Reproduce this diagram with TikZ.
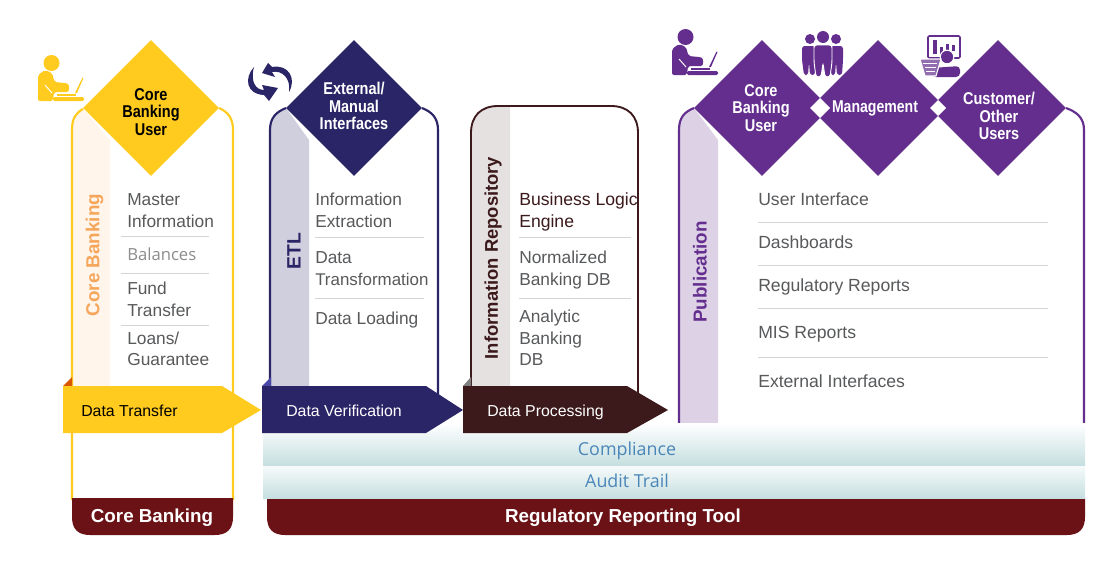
\documentclass[tikz,border=0pt]{standalone}
\usepackage{fontspec}
\setmainfont{Liberation Sans}
\newfontfamily\opensans{Open Sans}
\usetikzlibrary{shapes.geometric}
\definecolor{cyel}{HTML}{FFCB1F}
\definecolor{cblu}{HTML}{2A2566}
\definecolor{cdrk}{HTML}{3C1A1C}
\definecolor{cpur}{HTML}{642E8E}
\definecolor{cmar}{HTML}{6B1216}
\definecolor{ctxt}{HTML}{58595B}
\definecolor{csep}{HTML}{D5D5D5}
\definecolor{cband}{HTML}{C6DFE0}
\definecolor{cbtx}{HTML}{4A86B8}
\definecolor{corg}{HTML}{F5A65B}
\tikzset{
  dia/.style={diamond,aspect=1,minimum width=102pt,minimum height=102pt,inner sep=0pt,draw=none},
  dtext/.style={font=\fontsize{12.8}{13.2}\selectfont\bfseries,align=center,xscale=.85,transform shape,inner sep=0pt},
  item/.style={anchor=base west,font=\fontsize{13}{16}\selectfont,text=ctxt,inner sep=0pt},
  itemb/.style={item,font=\fontsize{13.2}{16}\selectfont},
  vert/.style={rotate=90,font=\fontsize{14.1}{16}\selectfont\bfseries,inner sep=0pt},
  sep/.style={draw=csep,line width=.7pt},
  arrowtxt/.style={anchor=base west,font=\fontsize{11.9}{13}\selectfont,inner sep=0pt},
  bartxt/.style={anchor=base,font=\fontsize{14.1}{16}\selectfont\bfseries,text=white,inner sep=0pt},
  bandtxt/.style={anchor=base,font=\opensans\fontsize{13.4}{16}\selectfont,text=cbtx,inner sep=0pt},
  pics/deskuser/.style={code={
    \fill[#1] (13.5,8) circle (8);
    \fill[#1,rounded corners=1.5pt] (0,20) -- (7,15) -- (14,18) -- (16.5,27) -- (27,28) .. controls (32,29) and (32,37) .. (27,37) -- (16,37) -- (15,46) -- (0,46) -- cycle;
    \draw[white,line width=.7pt] (7,30) -- (14,38);
    \fill[#1] (19,38.5) rectangle (38,40.5);
    \fill[#1,rounded corners=1pt] (15,42) rectangle (46,46);
    \fill[#1] (37,38) -- (39,38) -- (45.5,23) -- (44.5,22.5) -- cycle;
  }}
}
\begin{document}
\begin{tikzpicture}[x=.75pt,y=-.75pt]
\useasboundingbox (0,0) rectangle (1113,561);
\fill[white] (0,0) rectangle (1113,561);

% light strips
\fill[fill=orange!8!white] (72,127) .. controls (72,118) and (76,113) .. (83,109) -- (110,140) -- (110,386) -- (72,386) -- cycle;
\fill[fill=cblu!22!white] (270,127) .. controls (270,118) and (276,112) .. (286,108) -- (309,140) -- (309,386) -- (270,386) -- cycle;
\fill[fill=cdrk!13!white] (471,133) .. controls (471,116) and (481,106) .. (498,106) -- (510,106) -- (510,386) -- (471,386) -- cycle;
\fill[fill=cpur!22!white] (679,127) .. controls (679,118) and (684,112) .. (694,108) -- (718,140) -- (718,423) -- (679,423) -- cycle;

% panel outlines
\draw[cyel,line width=1.6pt] (83,109) .. controls (76,113) and (72,118) .. (72,130) -- (72,500);
\draw[cyel,line width=1.6pt] (219,108) .. controls (228,112) and (233,118) .. (233,130) -- (233,500);
\draw[cblu,line width=1.6pt] (286,108) .. controls (276,112) and (270,118) .. (270,130) -- (270,392);
\draw[cblu,line width=1.6pt] (422,108) .. controls (432,112) and (438,118) .. (438,130) -- (438,398);
\draw[cdrk,line width=1.4pt] (471,392) -- (471,133) .. controls (471,116) and (481,106) .. (498,106) -- (611,106) .. controls (628,106) and (638,116) .. (638,133) -- (638,398);
\draw[cpur,line width=1.6pt] (694,108) .. controls (684,112) and (679,118) .. (679,130) -- (679,423);
\draw[cpur,line width=1.6pt] (1066,108) .. controls (1077,112) and (1084,118) .. (1084,130) -- (1084,423);

% bottom bars
\fill[cmar] (72,498) -- (233,498) -- (233,517) .. controls (233,529) and (227,535) .. (215,535) -- (90,535) .. controls (78,535) and (72,529) .. (72,517) -- cycle;
\fill[cmar] (267,498) -- (1085,498) -- (1085,517) .. controls (1085,529) and (1079,535) .. (1067,535) -- (285,535) .. controls (273,535) and (267,529) .. (267,517) -- cycle;
\node[bartxt] (b1) at (152,522) {Core Banking};
\node[bartxt] (b2) at (623,522) {Regulatory Reporting Tool};

% bands
\shade[top color=white,bottom color=cband] (263,423) rectangle (1085,465);
\shade[top color=white!85!cband,bottom color=cband] (263,466) rectangle (1085,498);
\node[bandtxt] (compl) at (627,455) {Compliance};
\node[bandtxt] (audit) at (627,487) {Audit Trail};

% diamonds
\node[dia,fill=cyel] (d1) at (151,108) {};
\node[dtext] at (151,112) {Core\\Banking\\User};
\node[dia,fill=cblu] (d2) at (354,108) {};
\node[dtext,text=white] at (354,106) {External/\\Manual\\Interfaces};
\node[dia,fill=cpur] (d3) at (762,108) {};
\node[dia,fill=cpur] (d4) at (878,108) {};
\node[dia,fill=cpur] (d5) at (998,108) {};
\fill[white] (810,108) -- (820,98) -- (830,108) -- (820,118) -- cycle;
\fill[white] (930,108) -- (938,100) -- (946,108) -- (938,116) -- cycle;
\node[dtext,text=white] at (761,108) {Core\\Banking\\User};
\node[dtext,text=white,xscale=.97] at (875,108) {Management};
\node[dtext,text=white] at (999,116) {Customer/\\Other\\Users};

% rotated labels
\node[vert,text=corg] (v1) at (94.5,255) {Core Banking};
\node[vert,text=cblu,font=\fontsize{14.5}{16}\selectfont\bfseries] (v2) at (294,251) {ETL};
\node[vert,text=cdrk,font=\fontsize{13.8}{16}\selectfont\bfseries] (v3) at (493,258) {Information Repository};
\node[vert,text=cpur] (v4) at (700,272) {Publication};

% yellow list
\node[item] at (127,205.5) {Master};
\node[item] at (127,227.5) {Information};
\draw[sep] (121,236) -- (209,236);
\node[item,font=\opensans\fontsize{12.5}{16}\selectfont,text=gray!90!white] at (127,260) {Balances};
\draw[sep] (121,273) -- (209,273);
\node[item] at (127,294) {Fund};
\node[item] at (127,316) {Transfer};
\draw[sep] (121,325) -- (209,325);
\node[item] at (127,344) {Loans/};
\node[item] at (127,365.5) {Guarantee};

% blue list
\node[item] at (315,205.5) {Information};
\node[item] at (315,227.5) {Extraction};
\draw[sep] (315,237) -- (424,237);
\node[item] at (315,263) {Data};
\node[item,font=\fontsize{12.7}{16}\selectfont] at (315,285) {Transformation};
\draw[sep] (315,298) -- (424,298);
\node[item] at (315,324) {Data Loading};

% repository list
\node[itemb,text=cdrk] at (519,205.5) {Business Logic};
\node[itemb,text=cdrk] at (519,227.5) {Engine};
\draw[sep] (519,237) -- (631,237);
\node[item] at (519,263) {Normalized};
\node[item] at (519,285) {Banking DB};
\draw[sep] (519,298) -- (631,298);
\node[item] at (519,322) {Analytic};
\node[item] at (519,344) {Banking};
\node[item] at (519,365) {DB};

% publication list
\node[itemb] at (758,205.5) {User Interface};
\draw[sep] (758,222) -- (1048,222);
\node[itemb] at (758,248.5) {Dashboards};
\draw[sep] (758,265) -- (1048,265);
\node[itemb] at (758,291.5) {Regulatory Reports};
\draw[sep] (758,308) -- (1048,308);
\node[itemb] at (758,338.5) {MIS Reports};
\draw[sep] (758,357) -- (1048,357);
\node[itemb] at (758,387.5) {External Interfaces};

% arrows
\fill[orange!80!red!85!black] (63,386) -- (72,377) -- (72,386) -- cycle;
\fill[cblu!70!blue!80!white] (262,386) -- (271,377) -- (271,386) -- cycle;
\fill[gray] (463,386) -- (471,377) -- (471,386) -- cycle;
\fill[cyel] (63,386) -- (222,386) -- (261,410) -- (222,433) -- (63,433) -- cycle;
\fill[cblu] (262,386) -- (426,386) -- (463,410) -- (426,433) -- (262,433) -- cycle;
\fill[cdrk] (463,386) -- (627,386) -- (668,410) -- (627,433) -- (463,433) -- cycle;
\node[arrowtxt] (a1) at (81,416.5) {Data Transfer};
\node[arrowtxt,text=white] (a2) at (286,416.5) {Data Verification};
\node[arrowtxt,text=white] (a3) at (487,416.5) {Data Processing};

% icons
\pic at (38,55) {deskuser=cyel};
\pic at (672,29) {deskuser=cpur};

% cycle arrows
\fill[cblu] (289,92) .. controls (297,78) and (288,64) .. (272,67) -- (268,63) -- (262,73) -- (275,77) -- (272,72) .. controls (282,70) and (291,78) .. (289,92) -- cycle;
\fill[cblu] (254,67) .. controls (244,78) and (246,94) .. (264,95) -- (269,101) -- (278,88) -- (262,85) -- (264,90) .. controls (256,90) and (250,82) .. (254,67) -- cycle;

% people
\fill[cpur] (810,39) circle (5);
\fill[cpur] (836,39) circle (5);
\fill[cpur,rounded corners=2pt] (802,46) -- (815,46) -- (815,75) -- (810,75) -- (809,62) -- (808,75) -- (804,75) -- (802,60) -- cycle;
\fill[cpur,rounded corners=2pt] (831,46) -- (843,46) -- (843,60) -- (842,75) -- (837,75) -- (836,62) -- (835,75) -- (831,75) -- cycle;
\fill[cpur] (823,37) circle (6);
\draw[white,line width=.7pt,fill=cpur,rounded corners=2pt] (814,45) -- (832,45) -- (832,62) -- (830,77) -- (825,77) -- (823,63) -- (821,77) -- (816,77) -- (814,62) -- cycle;

% dashboard user
\draw[cpur,line width=1.2pt,rounded corners=1pt] (928,36) rectangle (960,58);
\fill[cpur] (933,40) rectangle (937,54);
\fill[cpur] (940,47) rectangle (943,54);
\fill[cpur] (946,44) rectangle (949,52);
\fill[cpur] (952,45) rectangle (955,51);
\draw[white,line width=.8pt,fill=cpur] (947,57) circle (6.8);
\fill[cpur,rounded corners=3pt] (932,77) -- (932,68) -- (960,66) -- (960,77) -- cycle;
\draw[white,line width=.8pt,fill=cpur!70!white] (920,59) -- (941,59) -- (936,76) -- (925,76) -- cycle;
\draw[white,line width=.6pt] (923,63) -- (937,63) (925,67) -- (936,67) (926,71) -- (935,71);
\end{tikzpicture}
\end{document}
